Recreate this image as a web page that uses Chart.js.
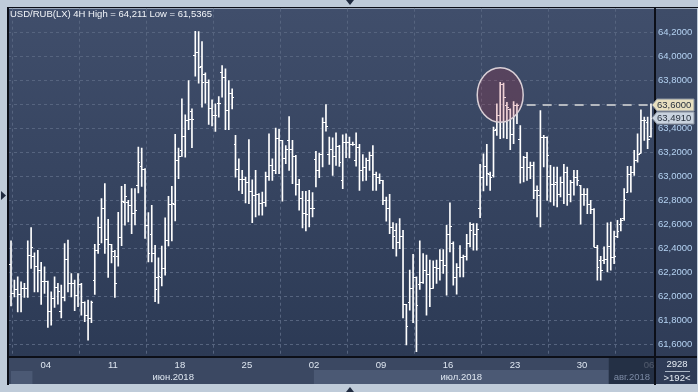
<!DOCTYPE html>
<html>
<head>
<meta charset="utf-8">
<script src="https://cdn.jsdelivr.net/npm/chart.js@4.4.1/dist/chart.umd.min.js"></script>
<style>
  html, body { margin: 0; padding: 0; background: #bfcbd9; }
  canvas { display: block; }
</style>
</head>
<body>
<canvas id="chart" width="698" height="392"></canvas>
<script>
// --- data ---
const title = 'USD/RUB(LX) 4H High = 64,211 Low = 61,5365';
const dayLabels = ['04', '11', '18', '25', '02', '09', '16', '23', '30', '06'];
const weekStarts = [10.4, 30.4, 50.4, 70.4, 90.4, 110.4, 130.4, 150.4, 170.4, 190.4];
const monthLabels = ['июн.2018', 'июл.2018', 'авг.2018'];
const monthStarts = [6.4, 90.4, 178.4];
const yTicks = [61.6, 61.8, 62.0, 62.2, 62.4, 62.6, 62.8, 63.0, 63.2, 63.4, 63.6, 63.8, 64.0, 64.2];
const levelPrice = 63.6;
const totalBars = '2928';
const visibleBars = '>192<';

const opens = [
  62.272, 62.022, 62.056, 62.017, 62.064, 62.067, 62.347, 62.333, 62.250, 62.217,
  62.125, 62.125, 61.875, 61.981, 62.078, 61.875, 61.994, 62.314, 62.106, 62.111,
  62.008, 62.100, 61.953, 61.842, 61.814, 62.133, 62.383, 62.578, 62.739, 62.475,
  62.433, 62.333, 62.333, 62.494, 62.786, 62.786, 62.758, 62.697, 62.925, 63.086,
  63.058, 62.592, 62.522, 62.364, 62.156, 62.156, 62.231, 62.467, 62.772, 62.772,
  63.133, 63.222, 63.333, 63.472, 63.542, 64.017, 64.039, 63.919, 63.856, 63.792,
  63.572, 63.514, 63.611, 63.869, 63.828, 63.550, 63.694, 63.272, 63.064, 62.981,
  62.975, 62.953, 62.878, 62.842, 62.856, 62.778, 62.786, 62.999, 63.097, 63.050,
  63.319, 63.300, 63.153, 63.300, 63.231, 63.167, 62.939, 62.822, 62.694, 62.800,
  62.736, 63.142, 63.056, 63.189, 63.458, 63.190, 63.231, 63.167, 63.253, 62.972,
  63.286, 63.286, 63.272, 63.136, 63.244, 63.056, 63.078, 63.133, 63.175, 63.022,
  62.994, 62.967, 62.806, 62.736, 62.578, 62.550, 62.453, 62.500, 61.931, 61.950,
  62.064, 62.161, 62.100, 62.114, 62.217, 62.183, 62.064, 62.244, 62.231, 62.300,
  62.258, 62.522, 62.447, 62.161, 62.244, 62.328, 62.333, 62.444, 62.600, 62.522,
  62.736, 62.994, 63.086, 63.022, 63.008, 63.397, 63.514, 63.772, 63.600, 63.564,
  63.356, 63.592, 63.314, 63.078, 63.161, 63.078, 63.092, 62.883, 62.842, 63.328,
  63.328, 63.000, 62.939, 62.950, 62.856, 62.953, 63.036, 62.856, 62.953, 62.994,
  62.925, 62.856, 62.856, 62.772, 62.725, 62.411, 62.300, 62.300, 62.314, 62.417,
  62.328, 62.500, 62.600, 62.650, 62.869, 63.022, 63.036, 63.133, 63.194, 63.467,
  63.450, 63.340
];
const highs = [
  62.461, 62.133, 62.161, 62.119, 62.106, 62.461, 62.572, 62.361, 62.383, 62.283,
  62.244, 62.125, 62.036, 62.161, 62.106, 62.092, 62.439, 62.467, 62.189, 62.133,
  62.189, 62.106, 61.953, 61.967, 61.958, 62.433, 62.661, 62.814, 62.939, 62.642,
  62.433, 62.383, 62.700, 62.917, 62.933, 62.800, 62.897, 62.897, 63.244, 63.236,
  63.064, 62.697, 62.758, 62.425, 62.319, 62.417, 62.653, 62.833, 62.917, 63.350,
  63.236, 63.647, 63.514, 63.800, 63.564, 64.211, 64.208, 64.125, 63.864, 63.806,
  63.639, 63.606, 63.667, 63.925, 63.897, 63.800, 63.731, 63.342, 63.147, 63.050,
  62.994, 63.308, 62.972, 63.050, 62.856, 62.869, 63.036, 63.356, 63.147, 63.403,
  63.392, 63.300, 63.258, 63.500, 63.300, 63.175, 62.975, 62.875, 62.875, 62.883,
  62.864, 63.208, 63.194, 63.489, 63.600, 63.328, 63.322, 63.364, 63.260, 63.347,
  63.356, 63.328, 63.286, 63.364, 63.267, 63.181, 63.153, 63.203, 63.258, 63.036,
  63.022, 62.967, 62.828, 62.850, 62.614, 62.606, 62.647, 62.550, 61.931, 62.217,
  62.350, 62.161, 62.461, 62.356, 62.342, 62.300, 62.294, 62.300, 62.389, 62.389,
  62.592, 62.778, 62.453, 62.272, 62.422, 62.342, 62.517, 62.614, 62.606, 62.606,
  63.100, 63.189, 63.267, 63.036, 63.411, 63.606, 63.786, 63.778, 63.619, 63.564,
  63.625, 63.606, 63.425, 63.167, 63.200, 63.119, 63.119, 62.920, 63.550, 63.342,
  63.330, 63.092, 63.078, 63.078, 62.994, 63.100, 63.078, 62.967, 63.050, 63.050,
  62.925, 62.897, 62.897, 62.800, 62.731, 62.425, 62.333, 62.411, 62.611, 62.619,
  62.544, 62.633, 62.650, 62.897, 63.083, 63.083, 63.217, 63.356, 63.556, 63.494,
  63.494, 63.606
];
const lows = [
  61.919, 61.994, 61.869, 61.869, 61.989, 61.989, 62.231, 62.036, 62.036, 61.931,
  62.022, 61.739, 61.758, 61.906, 61.933, 61.819, 61.961, 62.036, 61.994, 61.878,
  61.911, 61.842, 61.786, 61.633, 61.778, 62.014, 62.356, 62.444, 62.356, 62.156,
  62.278, 61.989, 62.250, 62.422, 62.592, 62.619, 62.522, 62.594, 62.861, 62.917,
  62.481, 62.286, 62.286, 61.953, 61.939, 62.086, 62.175, 62.419, 62.461, 62.628,
  62.981, 63.167, 63.161, 63.389, 63.239, 63.836, 63.778, 63.578, 63.611, 63.433,
  63.422, 63.375, 63.494, 63.661, 63.389, 63.389, 63.564, 62.994, 62.883, 62.856,
  62.778, 62.772, 62.614, 62.661, 62.675, 62.675, 62.750, 62.967, 62.967, 63.022,
  63.022, 62.792, 63.106, 63.050, 62.939, 62.842, 62.717, 62.569, 62.544, 62.578,
  62.661, 62.911, 62.989, 63.078, 63.378, 63.100, 63.008, 63.092, 63.083, 62.897,
  63.156, 63.153, 63.258, 63.086, 62.883, 62.961, 62.967, 63.050, 62.883, 62.883,
  62.939, 62.764, 62.625, 62.522, 62.397, 62.333, 62.397, 61.819, 61.592, 61.883,
  61.778, 61.5365, 62.056, 62.106, 61.842, 61.911, 62.064, 62.106, 62.133, 62.189,
  62.008, 62.369, 62.092, 62.017, 62.161, 62.161, 62.300, 62.411, 62.383, 62.383,
  62.656, 62.878, 62.925, 62.883, 62.994, 63.342, 63.314, 63.322, 63.314, 63.222,
  63.272, 63.439, 62.944, 62.953, 62.967, 62.981, 62.814, 62.661, 62.578, 63.078,
  62.800, 62.786, 62.758, 62.744, 62.828, 62.772, 62.758, 62.786, 62.842, 62.925,
  62.600, 62.758, 62.689, 62.689, 62.411, 62.133, 62.133, 62.272, 62.203, 62.217,
  62.272, 62.489, 62.544, 62.633, 62.869, 62.869, 63.008, 63.119, 63.194, 63.300,
  63.231, 63.328
];
const closes = [
  62.022, 62.056, 62.017, 62.064, 62.067, 62.347, 62.408, 62.250, 62.217, 62.125,
  62.125, 61.875, 61.981, 62.078, 62.040, 61.994, 62.314, 62.106, 62.111, 62.008,
  62.100, 61.953, 61.842, 61.814, 61.953, 62.389, 62.439, 62.739, 62.475, 62.433,
  62.375, 62.106, 62.494, 62.794, 62.836, 62.758, 62.697, 62.720, 63.119, 63.058,
  62.592, 62.364, 62.364, 62.056, 62.170, 62.231, 62.467, 62.772, 62.780, 63.133,
  63.167, 63.333, 63.472, 63.475, 63.481, 64.039, 63.911, 63.792, 63.792, 63.572,
  63.514, 63.514, 63.611, 63.828, 63.556, 63.694, 63.661, 63.064, 62.981, 62.975,
  62.953, 62.878, 62.842, 62.856, 62.778, 62.786, 62.999, 63.097, 63.050, 63.319,
  63.300, 63.153, 63.231, 63.231, 63.167, 62.939, 62.822, 62.694, 62.689, 62.736,
  62.740, 63.056, 63.189, 63.458, 63.419, 63.231, 63.167, 63.253, 63.119, 63.286,
  63.286, 63.272, 63.272, 63.244, 63.056, 63.078, 63.133, 63.175, 63.022, 62.994,
  62.967, 62.806, 62.736, 62.578, 62.500, 62.453, 62.500, 61.931, 61.750, 62.064,
  62.161, 61.925, 62.114, 62.217, 62.183, 62.064, 62.244, 62.231, 62.300, 62.258,
  62.522, 62.586, 62.161, 62.244, 62.328, 62.333, 62.444, 62.556, 62.522, 62.564,
  62.994, 63.086, 63.028, 62.994, 63.383, 63.514, 63.772, 63.661, 63.583, 63.356,
  63.592, 63.592, 63.078, 63.161, 63.078, 63.092, 62.883, 62.883, 63.328, 63.328,
  63.175, 62.939, 62.939, 62.856, 62.953, 63.036, 62.856, 62.953, 62.994, 62.967,
  62.856, 62.856, 62.772, 62.725, 62.411, 62.244, 62.217, 62.314, 62.417, 62.328,
  62.333, 62.544, 62.633, 62.814, 63.022, 63.036, 63.133, 63.189, 63.467, 63.467,
  63.314, 63.491
];
const lastPrice = closes[closes.length - 1];

const fmt = v => v.toFixed(4).replace('.', ',');
const FONT = '"Liberation Sans", Arial, sans-serif';

// frame, backgrounds and axis bands
const backdrop = {
  id: 'backdrop',
  beforeDraw(chart) {
    const { ctx, chartArea: a } = chart;
    ctx.save();
    ctx.fillStyle = '#bfcbd9';
    ctx.fillRect(0, 0, chart.width, chart.height);
    let g = ctx.createLinearGradient(0, a.top, 0, a.bottom);
    g.addColorStop(0, '#404e6b');
    g.addColorStop(1, '#2c3a55');
    ctx.fillStyle = g;
    ctx.fillRect(a.left, a.top, a.right - a.left, a.bottom - a.top);
    g = ctx.createLinearGradient(0, a.top, 0, 384);
    g.addColorStop(0, '#3e4c68');
    g.addColorStop(1, '#2e3b56');
    ctx.fillStyle = g;
    ctx.fillRect(a.right, a.top, 697 - a.right, 384 - a.top);
    // date band
    ctx.fillStyle = '#3b4862';
    ctx.fillRect(a.left, a.bottom, a.right - a.left, 384 - a.bottom);
    const xs = chart.scales.x;
    const m1 = xs.getPixelForValue(monthStarts[1]);
    const m2 = xs.getPixelForValue(monthStarts[2]);
    ctx.fillStyle = '#4b5974';
    ctx.fillRect(m1, 370, m2 - m1, 14);
    ctx.fillRect(11, 371, xs.getPixelForValue(monthStarts[0]) - 11, 13);
    ctx.restore();
  },
  afterDatasetsDraw(chart) {
    const { ctx, chartArea: a } = chart;
    const xs = chart.scales.x, ys = chart.scales.y;
    ctx.save();
    ctx.beginPath();
    ctx.rect(a.left, a.top, a.right - a.left, a.bottom - a.top);
    ctx.clip();
    // open / close ticks
    ctx.strokeStyle = '#ffffff';
    ctx.lineWidth = 1;
    ctx.beginPath();
    opens.forEach((o, i) => {
      const x = Math.round(xs.getPixelForValue(i));
      const yo = Math.round(ys.getPixelForValue(o)) + 0.5;
      const yc = Math.round(ys.getPixelForValue(closes[i])) + 0.5;
      ctx.moveTo(x - 2, yo); ctx.lineTo(x, yo);
      ctx.moveTo(x, yc); ctx.lineTo(x + 2, yc);
    });
    ctx.stroke();
    // highlighted peak
    const cx = xs.getPixelForValue(146);
    const cy = ys.getPixelForValue(63.679);
    const rx = xs.getPixelForValue(146 + 6.86) - cx;
    const ry = ys.getPixelForValue(63.679 - 0.227) - cy;
    ctx.beginPath();
    ctx.ellipse(cx, cy, rx, ry, 0, 0, Math.PI * 2);
    ctx.fillStyle = 'rgba(188,45,62,0.22)';
    ctx.fill();
    ctx.strokeStyle = '#d9cfd6';
    ctx.lineWidth = 1.5;
    ctx.stroke();
    // resistance level
    const ly = Math.round(ys.getPixelForValue(levelPrice));
    ctx.setLineDash([9, 7]);
    ctx.strokeStyle = '#b4b8bf';
    ctx.lineWidth = 2;
    ctx.beginPath();
    ctx.moveTo(xs.getPixelForValue(153.9), ly);
    ctx.lineTo(a.right, ly);
    ctx.stroke();
    ctx.restore();

    ctx.save();
    // frame lines
    ctx.fillStyle = '#0c0f18';
    ctx.fillRect(7, 7, 691, 1);
    ctx.fillRect(7, 7, 2, 378);
    ctx.fillRect(a.right - 1, 7, 2, 378);
    ctx.fillRect(8, a.bottom - 1, 689, 2);
    // august overlay in date band
    ctx.fillStyle = 'rgba(30,40,60,0.75)';
    const m2 = xs.getPixelForValue(monthStarts[2]);
    ctx.fillRect(m2, a.bottom + 1, a.right - 1 - m2, 384 - a.bottom - 1);
    // month labels
    ctx.font = '9.5px ' + FONT;
    ctx.textAlign = 'center';
    ctx.textBaseline = 'middle';
    monthLabels.forEach((lab, i) => {
      const s = monthStarts[i];
      const e = i + 1 < monthStarts.length ? monthStarts[i + 1] : xs.max;
      ctx.fillStyle = i === 2 ? '#7c8aa4' : '#dfe7f1';
      ctx.fillText(lab, xs.getPixelForValue((s + e) / 2), 377);
    });
    // bar counters
    ctx.fillStyle = '#e6edf5';
    ctx.fillText(totalBars, 677, 364);
    ctx.fillText(visibleBars, 677, 378);
    ctx.fillStyle = '#aab6c6';
    ctx.fillRect(665, 371, 25, 1);
    // title
    ctx.textAlign = 'left';
    ctx.fillStyle = '#f2f5f9';
    ctx.fillText(title, 10, 14);
    // price tags
    const tag = (price, fill, text) => {
      const y = Math.round(ys.getPixelForValue(price));
      ctx.beginPath();
      ctx.moveTo(a.right - 3, y);
      ctx.lineTo(a.right + 2, y - 6);
      ctx.lineTo(694, y - 6);
      ctx.lineTo(694, y + 6);
      ctx.lineTo(a.right + 2, y + 6);
      ctx.closePath();
      ctx.fillStyle = fill;
      ctx.fill();
      ctx.strokeStyle = '#8b93a0';
      ctx.lineWidth = 1;
      ctx.stroke();
      ctx.fillStyle = '#27303d';
      ctx.fillText(fmt(price), a.right + 2, y + 0.5);
    };
    tag(levelPrice, '#e7dfbf', '#27303d');
    tag(lastPrice, '#c9d3df', '#27303d');
    // little arrow markers in the outer frame
    ctx.fillStyle = '#1f2a3f';
    ctx.beginPath(); ctx.moveTo(346, 0); ctx.lineTo(354, 0); ctx.lineTo(350, 5); ctx.fill();
    ctx.beginPath(); ctx.moveTo(346, 392); ctx.lineTo(354, 392); ctx.lineTo(350, 387); ctx.fill();
    ctx.beginPath(); ctx.moveTo(1, 191); ctx.lineTo(1, 200); ctx.lineTo(6, 195.5); ctx.fill();
    ctx.restore();
  }
};

new Chart(document.getElementById('chart'), {
  type: 'bar',
  data: {
    datasets: [{
      data: highs.map((h, i) => ({ x: i, y: [lows[i], h] })),
      backgroundColor: '#ffffff',
      borderWidth: 0,
      barThickness: 1,
    }],
  },
  options: {
    responsive: false,
    animation: false,
    events: [],
    layout: { padding: { left: 8, top: 8, right: 1, bottom: 8 } },
    plugins: { legend: { display: false }, tooltip: { enabled: false } },
    scales: {
      x: {
        type: 'linear',
        min: -0.9,
        max: 192.2,
        offset: false,
        afterBuildTicks: s => { s.ticks = weekStarts.map(v => ({ value: v })); },
        afterFit: s => { s.height = 27; },
        grid: { color: '#56647f', drawTicks: false },
        border: { display: false, dash: [3, 3] },
        ticks: {
          autoSkip: false,
          maxRotation: 0,
          padding: 3,
          color: '#dfe7f1',
          font: { family: FONT, size: 9.5 },
          callback: (v, i) => dayLabels[i],
        },
      },
      y: {
        position: 'right',
        min: 61.4917,
        max: 64.4,
        afterBuildTicks: s => { s.ticks = yTicks.map(v => ({ value: v })); },
        afterFit: s => { s.width = 42; },
        grid: { color: '#56647f', drawTicks: false },
        border: { display: false, dash: [3, 3] },
        ticks: {
          padding: 3,
          color: '#b5d3f3',
          font: { family: FONT, size: 9.5 },
          callback: v => fmt(v),
        },
      },
    },
  },
  plugins: [backdrop],
});
</script>
</body>
</html>
